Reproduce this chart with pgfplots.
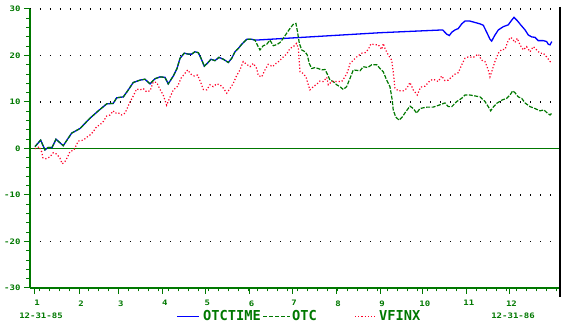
\documentclass[border=0pt]{standalone}
\usepackage{pgfplots}
\pgfplotsset{compat=1.18}
\usepackage{fontspec}
\newfontfamily\pix{DejaVu Sans Mono}[FakeStretch=1.2]
\newfontfamily\leg{DejaVu Sans Mono}
\definecolor{ogreen}{RGB}{0,120,0}
\definecolor{oblue}{RGB}{0,0,255}
\definecolor{ored}{RGB}{255,0,40}
\begin{document}
\begin{tikzpicture}
\useasboundingbox (-30pt,-44pt) rectangle (538pt,288pt);
\begin{axis}[
  at={(0pt,0pt)}, anchor=south west,
  scale only axis, width=530pt, height=279pt,
  xmin=-3.5, xmax=369.6, ymin=-30, ymax=30,
  axis x line*=bottom, axis y line*=left,
  axis line style={draw=ogreen, line width=1.5pt},
  tick style={ogreen, line width=1pt},
  tick align=outside,
  major tick length=6pt, minor tick length=3.5pt,
  xtick={0,31,59,90,120,151,181,212,243,273,304,334},
  xticklabels={1,2,3,4,5,6,7,8,9,10,11,12},
  minor xtick={3,10,...,367},
  ytick={-30,-20,-10,0,10,20,30},
  yticklabels={-30,-20,-10,0,10,20,30},
  minor ytick={-28,-26,-24,-22,-18,-16,-14,-12,-8,-6,-4,-2,2,4,6,8,12,14,16,18,22,24,26,28},
  ymajorgrids,
  major grid style={black, line width=1.2pt, dash pattern=on 1.2pt off 8.8pt},
  ticklabel style={font=\pix\bfseries\fontsize{7.5}{8}\selectfont, text=ogreen},
  xticklabel style={xshift=2pt, yshift=-3pt},
  yticklabel style={xshift=0pt},
  clip=false,
]
\draw[ogreen, line width=1.3pt] (axis cs:-3.5,0) -- (axis cs:369.6,0);
% OTCTIME
\addplot[oblue, line width=1.3pt] coordinates {
(0,0.4)(4.0,1.8)(7.0,-0.3)(9.2,0.2)(12.0,0.2)(14.8,2.0)(19.9,0.6)(25.8,3.3)(31.7,4.3)(38.7,6.5)(44.6,8.1)(50.5,9.6)(55.1,9.7)(57.5,10.9)(62.2,11.1)(65.7,12.6)(69.2,14.2)(73.9,14.7)(77.4,14.9)(81.0,13.9)(84.5,15.0)(88.0,15.4)(91.5,15.3)(93.8,13.9)(97.4,15.6)(100.0,17.2)(102.1,19.4)(105.1,20.5)(107.9,20.3)(110.3,20.3)(112.6,20.8)(115.0,20.6)(116.9,19.4)(119.2,17.7)(121.6,18.4)(123.9,19.2)(126.7,18.9)(129.5,19.6)(132.6,19.2)(136.1,18.5)(138.5,19.4)(140.8,20.8)(143.1,21.5)(145.5,22.4)(147.8,23.1)(149.2,23.5)(152.6,23.5)(154.9,23.3)
(243,24.9)(287,25.5)(289.8,24.6)(291.7,24.3)(293.4,25.0)(295.7,25.5)(298.0,25.8)(300.4,26.8)(302.7,27.4)(306.2,27.4)(309.8,27.1)(313.3,26.8)(315.6,26.5)(318.0,25.0)(320.3,23.5)(321.5,23.1)(323.8,24.4)(326.2,25.5)(329.7,26.2)(333.2,26.6)(335.6,27.6)(337.2,28.2)(339.5,27.5)(341.9,26.6)(345.0,25.5)(347.3,24.4)(349.7,24.0)(352.0,23.9)(354.3,23.2)(357.8,23.2)(360.2,23.0)(361.4,22.4)(362.6,22.3)(363.8,23.0)
};
% OTC
\addplot[ogreen, line width=1.2pt, dash pattern=on 4pt off 1.5pt] coordinates {
(0,0.4)(4.0,1.8)(7.0,-0.3)(9.2,0.2)(12.0,0.2)(14.8,2.0)(19.9,0.6)(25.8,3.3)(31.7,4.3)(38.7,6.5)(44.6,8.1)(50.5,9.6)(55.1,9.7)(57.5,10.9)(62.2,11.1)(65.7,12.6)(69.2,14.2)(73.9,14.7)(77.4,14.9)(81.0,13.9)(84.5,15.0)(88.0,15.4)(91.5,15.3)(93.8,13.9)(97.4,15.6)(100.0,17.2)(102.1,19.4)(105.1,20.5)(107.9,20.3)(110.3,20.3)(112.6,20.8)(115.0,20.6)(116.9,19.4)(119.2,17.7)(121.6,18.4)(123.9,19.2)(126.7,18.9)(129.5,19.6)(132.6,19.2)(136.1,18.5)(138.5,19.4)(140.8,20.8)(143.1,21.5)(145.5,22.4)(147.8,23.1)(149.2,23.5)(152.6,23.5)(154.9,23.3)
(156.3,22.4)(158.4,21.2)(160.7,22.1)(163.1,22.4)(165.4,23.3)(167.8,22.1)(170.6,22.4)(172.5,22.8)(174.8,23.7)(177.2,24.8)(179.5,25.8)(181.8,26.7)(183.7,26.9)(184.7,25.3)(186.1,22.6)(187.8,21.2)(190.1,20.8)(191.7,20.1)(193.1,18.3)(194.8,17.2)(197.1,17.4)(199.4,17.2)(201.8,16.9)(204.2,17.0)(206.1,15.8)(207.7,14.7)(210.0,14.4)(212.4,13.7)(214.7,13.3)(217.0,12.7)(219.4,13.3)(221.8,15.1)(224.1,16.9)(226.5,16.8)(228.8,16.7)(231.1,17.6)(234.2,17.4)(237.0,18.0)(240.6,18.0)(242.9,17.2)(245.2,16.5)(247.6,14.7)(249.9,13.3)(251.5,10.4)(252.2,8.3)(253.9,6.8)(256.3,6.1)(258.6,6.8)(261.0,7.9)(264.0,9.1)(266.3,8.6)(268.7,7.6)(271.0,8.6)(275.8,8.9)(280.4,8.9)(285.1,9.4)(288.6,9.8)(291.0,9.0)(293.4,9.0)(296.9,10.1)(300.4,10.8)(302.7,11.5)(306.2,11.5)(309.8,11.3)(313.3,11.1)(316.8,10.1)(319.1,9.0)(320.8,8.1)(322.6,8.9)(325.0,9.7)(328.6,10.4)(332.1,10.8)(334.4,11.5)(336.3,12.4)(337.9,12.0)(340.2,11.1)(342.6,10.8)(345.0,9.8)(348.5,9.0)(352.0,8.6)(355.5,8.1)(358.3,8.3)(360.7,7.6)(362.6,7.2)(363.8,7.6)
};
% VFINX
\addplot[ored, line width=1.2pt, dash pattern=on 1.2pt off 2pt] coordinates {
(0,0)(1.2,0)(3.0,0.4)(4.7,-0.7)(5.6,-2.0)(7.7,-2.2)(10.6,-1.8)(12.9,-0.9)(15.3,-1.2)(17.6,-2.1)(19.2,-3.3)(21.1,-2.8)(23.0,-1.8)(24.6,-0.7)(27.5,-0.3)(30.5,1.6)(34.0,1.8)(36.4,2.4)(38.7,2.9)(41.0,3.6)(43.4,4.7)(45.8,5.1)(48.1,5.8)(50.5,7.0)(52.8,7.2)(55.1,8.1)(56.3,7.6)(58.6,7.7)(61.0,7.2)(63.4,7.6)(66.9,10.0)(69.2,11.3)(71.6,12.8)(73.9,12.6)(76.2,12.9)(78.6,12.2)(81.0,12.4)(83.3,14.3)(85.7,14.2)(88.0,12.7)(90.3,11.5)(92.7,9.3)(95.0,11.0)(97.4,12.6)(100.5,13.4)(102.8,15.1)(105.1,16.0)(107.5,16.9)(109.8,16.0)(112.1,15.6)(114.5,15.8)(116.9,14.0)(118.5,12.7)(120.9,12.6)(123.2,13.7)(125.5,13.3)(127.9,13.9)(130.2,13.7)(132.6,13.0)(135.0,11.9)(137.3,12.9)(139.6,14.0)(142.0,15.7)(144.3,16.9)(146.6,18.7)(149.0,18.1)(151.4,17.6)(153.7,18.3)(156.1,17.2)(157.2,15.7)(159.6,15.4)(161.9,16.9)(164.2,18.1)(167.3,17.6)(169.7,18.3)(172.0,18.8)(174.8,19.7)(177.2,20.3)(179.5,21.5)(181.8,21.9)(184.2,22.6)(185.4,21.5)(186.6,16.5)(188.5,16.2)(190.8,15.4)(192.4,13.7)(193.6,12.6)(195.9,13.3)(198.3,13.8)(200.6,14.5)(203.0,14.4)(205.4,15.3)(206.5,13.7)(208.9,14.4)(212.4,14.4)(215.9,14.4)(218.2,15.4)(220.1,16.5)(221.8,18.3)(224.1,19.0)(226.5,19.7)(230.0,20.5)(232.3,20.6)(234.6,21.3)(236.5,22.5)(239.4,22.3)(241.7,22.3)(244.1,21.3)(245.2,22.6)(246.4,21.5)(248.7,20.1)(251.1,19.0)(252.2,16.5)(253.4,13.0)(255.8,12.4)(259.3,12.4)(261.7,12.9)(264.0,14.2)(266.3,12.6)(269.1,11.5)(271.5,13.2)(274.6,13.4)(278.1,14.6)(280.4,14.9)(283.9,14.4)(286.3,15.6)(288.6,14.6)(291.0,14.7)(293.4,15.4)(295.7,16.0)(298.0,16.3)(300.4,18.0)(302.7,19.4)(305.0,19.7)(308.6,19.6)(312.1,20.3)(314.4,19.0)(316.8,18.7)(319.1,16.9)(320.3,15.4)(321.5,16.5)(323.8,18.7)(326.2,20.5)(328.6,21.3)(330.9,21.3)(333.2,23.3)(334.9,23.9)(336.3,23.5)(337.9,22.8)(339.5,23.7)(341.4,22.3)(343.8,21.2)(346.1,21.9)(348.5,20.8)(350.8,21.9)(353.2,21.2)(355.5,20.5)(357.8,20.5)(360.2,19.7)(362.6,18.7)(363.8,18.5)
};
\end{axis}
\draw[black, line width=1.2pt] (530pt,281pt) -- (530pt,-9pt);
% date labels
\node[font=\pix\bfseries\fontsize{7.5}{8}\selectfont, text=ogreen] at (11pt,-28pt) {12-31-85};
\node[font=\pix\bfseries\fontsize{7.5}{8}\selectfont, text=ogreen] at (483pt,-28pt) {12-31-86};
% legend
\draw[oblue, line width=1.3pt] (147pt,-28.5pt) -- (169pt,-28.5pt);
\node[anchor=west, inner sep=0pt, font=\leg\bfseries\fontsize{13.7}{14}\selectfont, text=ogreen] at (173pt,-28pt) {OTCTIME};
\draw[ogreen, line width=1.2pt, dash pattern=on 4pt off 2pt] (233pt,-28.5pt) -- (260pt,-28.5pt);
\node[anchor=west, inner sep=0pt, font=\leg\bfseries\fontsize{13.7}{14}\selectfont, text=ogreen] at (262pt,-28pt) {OTC};
\draw[ored, line width=1.2pt, dash pattern=on 1.2pt off 2pt] (325pt,-28.5pt) -- (347pt,-28.5pt);
\node[anchor=west, inner sep=0pt, font=\leg\bfseries\fontsize{13.7}{14}\selectfont, text=ogreen] at (349pt,-28pt) {VFINX};
\end{tikzpicture}
\end{document}
